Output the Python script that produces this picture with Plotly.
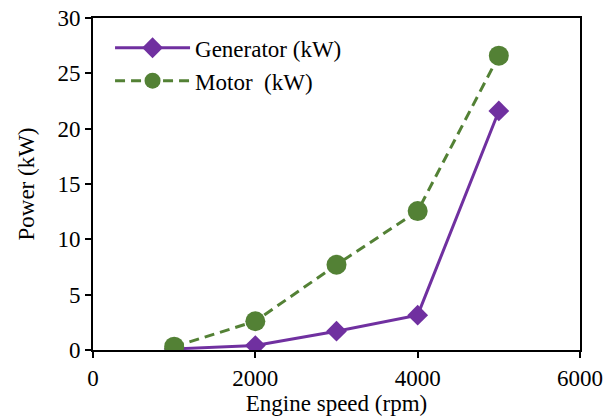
import plotly.graph_objects as go

speed = [1000, 2000, 3000, 4000, 5000]
generator_kw = [0.1, 0.4, 1.7, 3.15, 21.6]
motor_kw = [0.3, 2.6, 7.7, 12.55, 26.6]

fig = go.Figure()
fig.add_trace(go.Scatter(
    x=speed, y=generator_kw, name="Generator (kW)", mode="lines+markers",
    line=dict(color="#7030A0", width=3),
    marker=dict(symbol="diamond", size=16, color="#7030A0"),
))
fig.add_trace(go.Scatter(
    x=speed, y=motor_kw, name="Motor  (kW)", mode="lines+markers",
    line=dict(color="#538135", width=3, dash="10px,6px"),
    marker=dict(symbol="circle", size=20, color="#538135"),
))

font = dict(family="Liberation Serif", size=23, color="black")
fig.update_layout(
    width=607, height=416,
    margin=dict(l=93, r=27, t=18, b=66),
    paper_bgcolor="white", plot_bgcolor="white",
    font=font,
    showlegend=True,
    legend=dict(x=0.035, y=0.975, xanchor="left", yanchor="top",
                bgcolor="rgba(0,0,0,0)", font=font, itemwidth=75,
                tracegroupgap=0),
    xaxis=dict(range=[0, 6000], tickvals=[0, 2000, 4000, 6000],
               showgrid=False, zeroline=False, automargin=False,
               showline=True, linecolor="black", linewidth=2, mirror=True,
               ticks="outside", ticklen=6, tickcolor="black", tickwidth=2,
               title=dict(text="Engine speed (rpm)", standoff=0, font=font)),
    yaxis=dict(range=[0, 30], tickvals=[0, 5, 10, 15, 20, 25, 30],
               showgrid=False, zeroline=False, automargin=False,
               showline=True, linecolor="black", linewidth=2, mirror=True,
               ticks="outside", ticklen=6, tickcolor="black", tickwidth=2,
               title=dict(text="Power (kW)", standoff=16, font=font)),
)
fig.write_html("out.html")
